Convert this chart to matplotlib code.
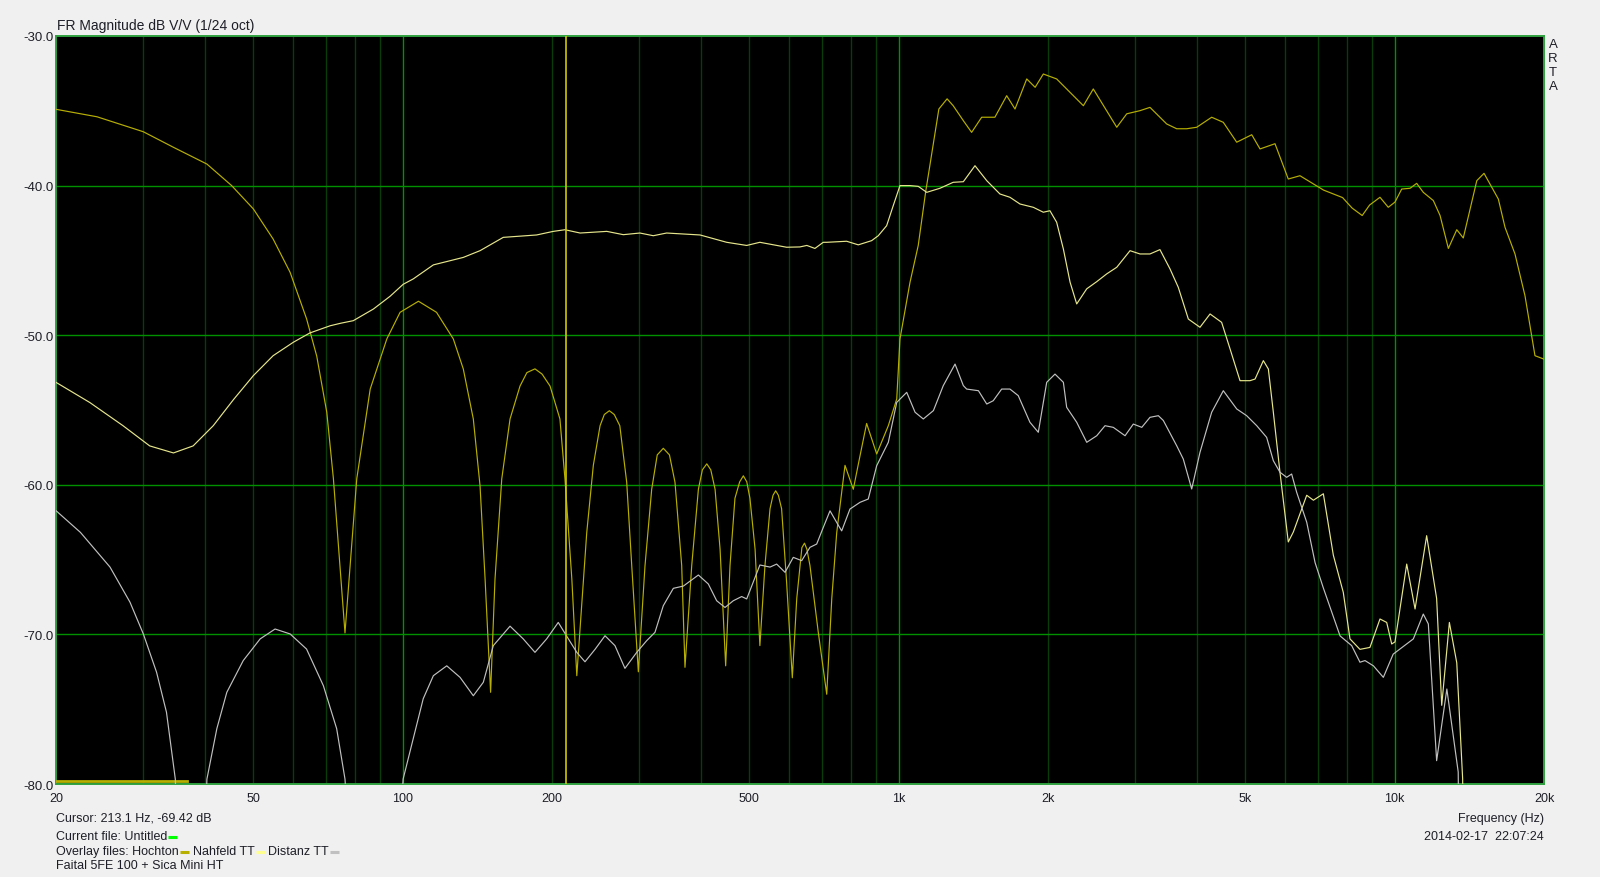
import numpy as np
import matplotlib
matplotlib.use('Agg')
import matplotlib.pyplot as plt
from matplotlib.lines import Line2D

plt.rcParams['font.family'] = ['Liberation Sans', 'DejaVu Sans']

# ---------------- data ----------------
hochton_f = [20, 24.2, 30, 34.5, 40.3, 45.2, 50, 54.8, 59.3, 64.0, 67.1, 70.3, 72.5, 76.5,
             80.8, 86, 92.9, 98.8, 107.6, 117, 126.5, 132.5, 138.8, 143.2, 146.6, 150.4,
             153.5, 158.4, 164.6, 172.4, 178, 184.8, 191, 198.2, 207.5, 212.4, 219.3, 224.4,
             235, 242.3, 250, 255, 261, 267, 274, 282.9, 289.6, 298.6,
             308, 317.7, 326, 335.3, 345, 354, 365.2, 370.8,
             382.6, 394.6, 402, 410.3, 418, 426.4, 436.4, 447.9,
             457, 467.6, 478, 486.2, 494, 501.3, 513.4, 525,
             537.5, 550.3, 558, 564.9, 572, 580.7, 594.3, 610.3,
             623, 638, 645.8, 653, 662.4, 688.5, 716,
             733, 750, 779.4, 810, 835.8, 861.7, 903, 953, 991, 1006, 1054, 1095, 1133,
             1170, 1205, 1252, 1288, 1350, 1403, 1470, 1563, 1651, 1716, 1812, 1884, 1957,
             2082, 2181, 2357, 2468, 2752, 2883, 3066, 3211, 3470, 3635, 3808, 3989, 4276,
             4513, 4803, 5150, 5352, 5737, 6102, 6442, 7187, 7850, 8206, 8600, 8900, 9340,
             9706, 10015, 10330, 10740, 11075, 11420, 11965, 12345, 12830, 13340, 13750,
             14300, 14640, 15140, 16180, 16690, 17480, 18310, 19180, 20000]
hochton_db = [-34.9, -35.4, -36.4, -37.44, -38.56, -40.0, -41.56, -43.57, -45.8, -48.9, -51.4, -55.15, -59.6, -69.9,
              -59.6, -53.6, -50.25, -48.47, -47.73, -48.47, -50.25, -52.26, -55.6, -60.06, -66.3, -73.87,
              -66.3, -59.6, -55.6, -53.4, -52.5, -52.25, -52.6, -53.4, -55.6, -59.6, -66.3, -72.76,
              -63.2, -58.7, -56.05, -55.3, -55.05, -55.3, -56.05, -59.83, -65.4, -72.5,
              -65.4, -60.3, -58.0, -57.56, -58.0, -59.83, -65.4, -72.2,
              -65.4, -60.3, -59.0, -58.6, -59.0, -60.3, -64.3, -72.1,
              -65.4, -60.9, -59.8, -59.4, -59.8, -60.9, -64.3, -70.75,
              -65.4, -61.6, -60.7, -60.4, -60.7, -61.6, -66.5, -72.9,
              -67.6, -64.2, -63.9, -64.3, -65.4, -69.86, -74.0,
              -67.6, -63.2, -58.7, -60.3, -58.05, -55.9, -57.94, -56.05, -54.26, -50.25, -46.46, -44.0, -40.45,
              -37.55, -34.88, -34.2, -34.66, -35.66, -36.44, -35.43, -35.43, -33.99, -34.88, -32.87, -33.43, -32.54,
              -32.87, -33.54, -34.66, -33.54, -36.1, -35.2, -34.99, -34.77, -35.88, -36.2, -36.2, -36.1, -35.43,
              -35.77, -37.1, -36.6, -37.55, -37.2, -39.56, -39.34, -40.3, -40.8, -41.5, -42.0, -41.3, -40.78,
              -41.45, -41.1, -40.23, -40.18, -39.85, -40.45, -41.0, -42.0, -44.2, -42.95, -43.5,
              -41.1, -39.67, -39.18, -40.9, -42.79, -44.57, -47.36, -51.37, -51.6]

hochton_low_f = [20, 36.8]
hochton_low_db = [-79.8, -79.8]

nahfeld_f = [20, 23.4, 27.3, 30.9, 34.5, 37.8, 41.5, 45.6, 50, 54.8, 60.2, 65, 71.4, 75, 79.5, 87.3,
             94.3, 100.2, 105, 115.3, 132.5, 143.2, 159.5, 186.2, 201.2, 212.4, 227.9, 257.9, 278.5,
             300.8, 320.1, 340.5, 397.7, 450, 493.8, 525, 594.3, 632, 652.9, 677.8, 704.6, 716, 785.4,
             829, 882, 909.6, 945.6, 975, 1006, 1054, 1095, 1139, 1211, 1288, 1350, 1425, 1505, 1600,
             1676, 1756, 1868, 1957, 2018, 2082, 2148, 2216, 2285, 2394, 2508, 2627, 2752, 2927, 3066,
             3211, 3363, 3524, 3662, 3837, 4050, 4244, 4478, 4657, 4877, 5108, 5230, 5435, 5563, 5693,
             5871, 6102, 6246, 6647, 6857, 7181, 7521, 7877, 8126, 8511, 8914, 9340, 9636, 9862, 10015,
             10574, 10992, 11600, 12150, 12440, 12890, 13340, 13710, 13900]
nahfeld_db = [-53.15, -54.5, -56.05, -57.4, -57.87, -57.4, -56.05, -54.3, -52.7, -51.37, -50.47, -49.85, -49.37, -49.2, -49.03, -48.25,
              -47.4, -46.6, -46.24, -45.3, -44.8, -44.35, -43.46, -43.3, -43.06, -42.95, -43.17, -43.06, -43.28,
              -43.17, -43.35, -43.17, -43.3, -43.79, -44.0, -43.79, -44.12, -44.1, -44.0, -44.2, -43.79, -43.79, -43.72,
              -43.96, -43.68, -43.35, -42.68, -41.34, -40.0, -40.0, -40.05, -40.45, -40.18, -39.78, -39.74, -38.67, -39.67, -40.56,
              -40.78, -41.23, -41.45, -41.78, -41.68, -42.45, -44.24, -46.46, -47.91, -46.9, -46.42, -45.9, -45.46, -44.35, -44.57,
              -44.57, -44.28, -45.57, -46.8, -48.92, -49.47, -48.58, -49.14, -50.92, -53.04, -53.04, -52.93, -51.7, -52.26, -55.15,
              -59.16, -63.82, -63.16, -60.7, -61.03, -60.6, -64.7, -67.19, -70.3, -71.0, -70.87, -68.97, -69.2, -70.64, -70.5,
              -65.3, -68.3, -63.4, -67.6, -74.74, -69.2, -71.9, -79.67, -100]

distanz_f = [20, 22.4, 25.7, 28.2, 30.0, 31.9, 33.4, 34.8, 37.5, 40.3, 42.2, 44.2, 47.7, 51.6, 55.3, 59.3,
             64.0, 69.2, 73.6, 76.5, 88, 100.2, 110, 115.3, 122.7, 130.5, 138.8, 145.4, 152.3, 164.6, 175,
             184.8, 195.1, 205.9, 215.8, 224.4, 233.1, 244.2, 255.8, 267.9, 280.6, 296.4, 310.4, 322.6,
             335.3, 351.3, 368, 394.6, 413.2, 429.6, 446.5, 464, 482.4, 493.8, 525, 550.3, 567.5, 590,
             613, 637.4, 662.4, 683.4, 704.6, 727, 750, 767.5, 797.6, 835.8, 868.3, 903, 953, 991, 1038,
             1079, 1121, 1175, 1230, 1299, 1350, 1371, 1448, 1505, 1551, 1613, 1676, 1742, 1839, 1912,
             1988, 2066, 2148, 2181, 2285, 2394, 2508, 2606, 2708, 2860, 2972, 3091, 3211, 3338, 3416,
             3635, 3748, 3897, 4050, 4276, 4513, 4803, 5030, 5271, 5519, 5693, 5871, 6056, 6198, 6344,
             6647, 6910, 7181, 7466, 7760, 8190, 8511, 8713, 9058, 9487, 9930, 10574, 10905, 11420,
             11690, 12150, 12740, 13430, 13700]
distanz_db = [-61.73, -63.18, -65.5, -67.85, -69.97, -72.53, -75.2, -79.67, -110, -79.67, -76.3, -73.87, -71.75, -70.3, -69.64, -69.97,
              -70.98, -73.43, -76.3, -79.67, -110, -79.67, -74.3, -72.76, -72.1, -72.87, -74.1, -73.2, -70.75, -69.45, -70.3,
              -71.2, -70.3, -69.2, -70.3, -71.2, -71.83, -71.0, -70.09, -70.75, -72.27, -71.2, -70.42, -69.86,
              -68.08, -66.92, -66.77, -66.03, -66.63, -67.75, -68.2, -67.75, -67.47, -67.63, -65.36, -65.5, -65.3, -65.85,
              -64.85, -65.07, -64.18, -63.96, -62.85, -61.74, -62.52, -63.08, -61.62, -61.17, -60.95, -58.72, -57.16, -54.49, -53.82,
              -55.15, -55.6, -55.04, -53.37, -51.93, -53.37, -53.6, -53.71, -54.6, -54.38, -53.6, -53.6, -54.04, -55.82, -56.49,
              -53.15, -52.6, -53.15, -54.82, -55.82, -57.16, -56.72, -56.05, -56.16, -56.72, -55.94, -56.16, -55.49, -55.38, -55.7,
              -57.39, -58.28, -60.28, -57.83, -55.15, -53.71, -54.93, -55.38, -56.05, -56.83, -58.39, -59.16, -59.5, -59.28, -60.5,
              -62.5, -65.2, -66.9, -68.5, -70.1, -70.75, -71.86, -71.75, -72.1, -72.87, -71.32, -70.64, -70.3, -68.64,
              -69.3, -78.44, -73.65, -79.2, -110]

cursor_freq = 213.1
xtick_vals = [20, 50, 100, 200, 500, 1000, 2000, 5000, 10000, 20000]
xtick_labels = ['20', '50', '100', '200', '500', '1k', '2k', '5k', '10k', '20k']
ytick_vals = [-30, -40, -50, -60, -70, -80]
ytick_labels = ['-30.0', '-40.0', '-50.0', '-60.0', '-70.0', '-80.0']

# ---------------- styles ----------------
W, H = 1600, 878
BG = '#f0f0f0'
TXT = '#1e1e28'
C_HOCH = '#b8b000'
C_NAH = '#e6e68c'
C_DIST = '#c0c0c0'
GRID_MAJ = '#009000'
GRID_MIN = '#0a3c0a'

fig = plt.figure(figsize=(W / 100, H / 100), dpi=100, facecolor=BG)
ax = fig.add_axes([56 / W, 1 - 785 / H, 1488 / W, 748 / H])
ax.set_facecolor('black')
ax.set_xscale('log')
ax.set_xlim(20, 20000)
ax.set_ylim(-80, -30)

# grid
for dec in [10, 100, 1000, 10000]:
    for m in range(1, 10):
        f = dec * m
        if 20 < f < 20000:
            ax.axvline(f, color=GRID_MAJ if m == 1 else GRID_MIN, lw=1.0, zorder=1)
for yv in [-40, -50, -60, -70]:
    ax.axhline(yv, color=GRID_MAJ, lw=1.0, zorder=1)

for sp in ax.spines.values():
    sp.set_color('#30a040')
    sp.set_linewidth(1.4)

ax.set_xticks(xtick_vals)
ax.set_xticklabels(xtick_labels)
ax.set_xticks([], minor=True)
ax.set_yticks(ytick_vals)
ax.set_yticklabels(ytick_labels)
ax.tick_params(axis='x', length=0, pad=6, labelsize=9, labelcolor=TXT)
ax.tick_params(axis='y', length=0, pad=2, labelsize=9.5, labelcolor=TXT)

# curves
ax.plot(hochton_f, hochton_db, color=C_HOCH, lw=0.85, zorder=3)
ax.plot(hochton_low_f, hochton_low_db, color=C_HOCH, lw=2.0, zorder=3)
ax.plot(nahfeld_f, nahfeld_db, color=C_NAH, lw=0.85, zorder=4)
ax.plot(distanz_f, distanz_db, color=C_DIST, lw=0.85, zorder=4)
ax.axvline(cursor_freq, color='#d0c800', lw=1.2, zorder=5)

# ---------------- texts ----------------
renderer = fig.canvas.get_renderer()

def put(x, y, s, ha='left', size=9, **kw):
    t = fig.text(x / W, 1 - y / H, s, ha=ha, va='center', fontsize=size, color=TXT, **kw)
    return t.get_window_extent(renderer=renderer).x1

def dash(x, y, color, w=9):
    fig.add_artist(Line2D([x / W, (x + w) / W], [1 - y / H, 1 - y / H], color=color,
                          lw=2.2, transform=fig.transFigure, solid_capstyle='butt'))

put(57, 26, 'FR Magnitude dB V/V (1/24 oct)', size=10)

for i, ch in enumerate('ARTA'):
    put(1553, 45 + 14 * i, ch, ha='center', size=9.5)

put(56, 819, 'Cursor: 213.1 Hz, -69.42 dB')
x1 = put(56, 837, 'Current file: Untitled')
dash(x1 + 1, 838, '#00ff00')
x1 = put(56, 852, 'Overlay files: Hochton')
dash(x1 + 1, 853, C_HOCH)
x1 = put(x1 + 14, 852, 'Nahfeld TT')
dash(x1 + 1, 853, '#ffff90')
x1 = put(x1 + 14, 852, 'Distanz TT')
dash(x1 + 1, 853, C_DIST)
put(56, 866, 'Faital 5FE 100 + Sica Mini HT')

put(1544, 819, 'Frequency (Hz)', ha='right')
put(1544, 837, '2014-02-17  22:07:24', ha='right')

fig.savefig('out.png', dpi=100, facecolor=BG)
